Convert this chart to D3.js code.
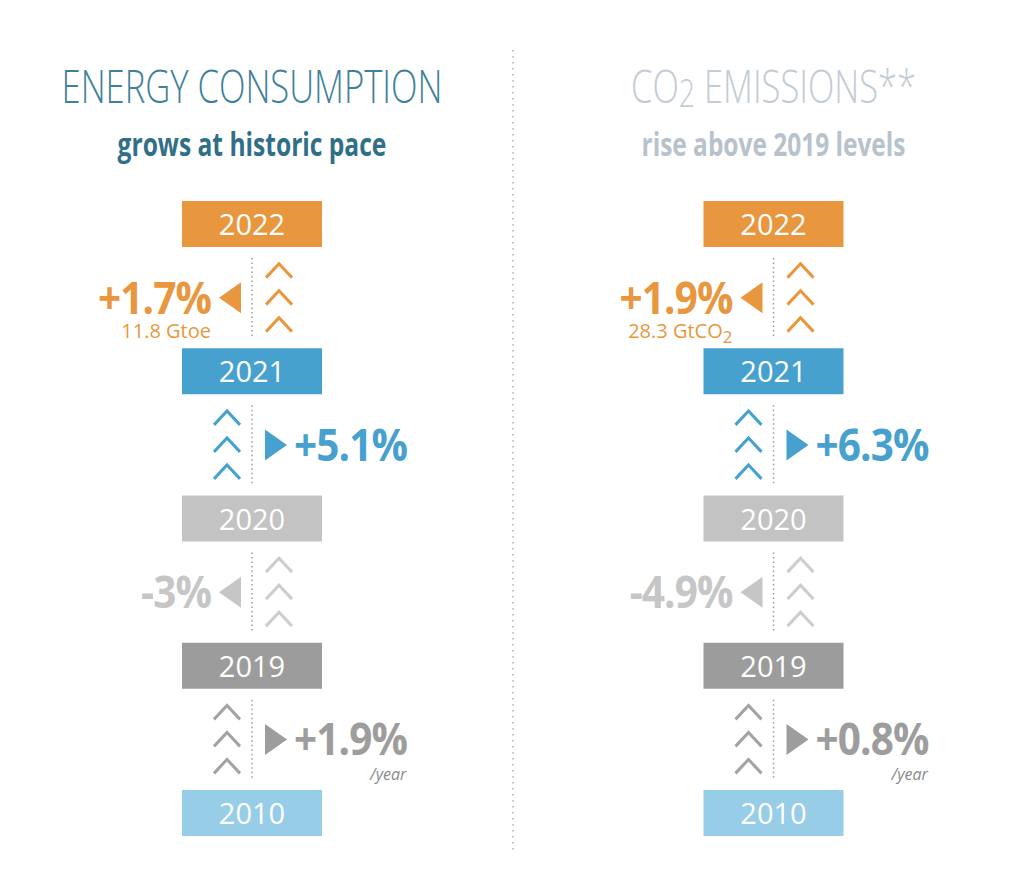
<!DOCTYPE html>
<html>
<head>
<meta charset="utf-8">
<script src="https://cdn.jsdelivr.net/npm/d3@7"></script>
<style>
  body { margin: 0; background: #fff; }
  svg { display: block; font-family: "Open Sans", sans-serif; }
</style>
</head>
<body>
<div id="chart"></div>
<script>
var years = ["2022", "2021", "2020", "2019", "2010"];
var yearColors = ["#e8973f", "#47a1cf", "#c3c3c3", "#9c9c9c", "#98cde8"];
var panels = ["energy", "co2"];
var energyGrowth = [1.7, 5.1, -3, 1.9];
var co2Growth = [1.9, 6.3, -4.9, 0.8];
var energyTotal = [["11.8 Gtoe", false]];
var co2Total = [["28.3 GtCO", false], ["2", true]];
var growthColors = ["#e8973f", "#47a1cf", "#c6c6c6", "#9d9d9d"];
var chevronColors = ["#e8973f", "#47a1cf", "#cdcdcd", "#a3a3a3"];
var growthNotes = ["", "", "", "/year"];
var energyTitle = [["ENERGY CONSUMPTION", false]];
var co2Title = [["CO", false], ["2", true], [" EMISSIONS**", false]];
var energySubtitle = "grows at historic pace";
var co2Subtitle = "rise above 2019 levels";

var width = 1024,
  height = 872;

var svg = d3
  .select("#chart")
  .append("svg")
  .attr("width", width)
  .attr("height", height);

var x = d3.scalePoint().domain(panels).range([252, 773.5]);
var y = d3.scalePoint().domain(years).range([224, 813]);
var boxW = 140,
  boxH = 46;

var fmt = function (v) {
  return (v > 0 ? "+" : "-") + Math.abs(v) + "%";
};

// squeeze text horizontally around its anchor (no condensed font available)
function squeeze(sel, k, ax) {
  sel.attr("transform", "translate(" + ax + ",0) scale(" + k + ",1) translate(" + -ax + ",0)");
}
function fit(sel, ax, w) {
  var bw = sel.node().getBBox().width;
  squeeze(sel, w / bw, ax);
}
function addParts(sel, parts, subSize, subDy) {
  parts.forEach(function (p) {
    var t = sel.append("tspan").text(p[0]);
    if (p[1]) {
      t.style("font-size", subSize + "px").attr("dy", subDy);
    } else if (sel.selectAll("tspan").size() > 1) {
      t.attr("dy", -subDy);
    }
  });
}

// centre divider
svg
  .append("line")
  .attr("x1", 513)
  .attr("x2", 513)
  .attr("y1", 50)
  .attr("y2", 850)
  .attr("stroke", "#b0b0b0")
  .attr("stroke-width", 1.5)
  .attr("stroke-dasharray", "1.5,4.5");

var panelInfo = {
  energy: {
    growth: energyGrowth,
    total: energyTotal,
    title: energyTitle,
    subtitle: energySubtitle,
    titleColor: "#3f8199",
    subColor: "#2f6f88",
    titleW: 381,
    subW: 269
  },
  co2: {
    growth: co2Growth,
    total: co2Total,
    title: co2Title,
    subtitle: co2Subtitle,
    titleColor: "#c3cbd4",
    subColor: "#b8c2cc",
    titleW: 285,
    subW: 264
  }
};

panels.forEach(function (p) {
  var info = panelInfo[p];
  var cx = x(p);
  var g = svg.append("g").attr("class", "panel-" + p);

  // titles
  var title = g
    .append("text")
    .attr("x", cx)
    .attr("y", 103)
    .attr("text-anchor", "middle")
    .style("font-size", "46px")
    .style("font-weight", 300)
    .attr("fill", info.titleColor);
  addParts(title, info.title, 38, 4);
  fit(title, cx, info.titleW);

  var sub = g
    .append("text")
    .attr("x", cx)
    .attr("y", 156)
    .attr("text-anchor", "middle")
    .style("font-size", "32px")
    .style("font-weight", 700)
    .attr("fill", info.subColor)
    .text(info.subtitle);
  fit(sub, cx, info.subW);

  // year boxes
  var boxes = g
    .selectAll(".year")
    .data(years)
    .enter()
    .append("g")
    .attr("class", "year");
  boxes
    .append("rect")
    .attr("x", cx - boxW / 2)
    .attr("y", function (d) {
      return y(d) - boxH / 2;
    })
    .attr("width", boxW)
    .attr("height", boxH)
    .attr("fill", function (d, i) {
      return yearColors[i];
    });
  boxes
    .append("text")
    .attr("x", cx)
    .attr("y", function (d) {
      return y(d) + 11;
    })
    .attr("text-anchor", "middle")
    .style("font-size", "29px")
    .attr("fill", "#fff")
    .text(function (d) {
      return d;
    });

  // segments between consecutive years
  d3.pairs(years).forEach(function (pair, i) {
    var top = y(pair[0]),
      bot = y(pair[1]);
    var mid = (top + bot) / 2;
    var labelLeft = i % 2 === 0;
    var col = growthColors[i];
    var seg = g.append("g").attr("class", "segment");

    seg
      .append("line")
      .attr("x1", cx)
      .attr("x2", cx)
      .attr("y1", top + boxH / 2 + 11)
      .attr("y2", bot - boxH / 2 - 11)
      .attr("stroke", "#9a9a9a")
      .attr("stroke-width", 1.5)
      .attr("stroke-dasharray", "1.5,3");

    var chevX = labelLeft ? cx + 27 : cx - 25;
    seg
      .selectAll(".chev")
      .data([-27, 0, 27])
      .enter()
      .append("path")
      .attr("class", "chev")
      .attr("d", function (dy) {
        var cy = mid + dy;
        return "M" + (chevX - 13) + "," + (cy + 7) + "L" + chevX + "," + (cy - 7) + "L" + (chevX + 13) + "," + (cy + 7);
      })
      .attr("fill", "none")
      .attr("stroke", chevronColors[i])
      .attr("stroke-width", 3);

    var tri = labelLeft
      ? [[cx - 33, mid], [cx - 11, mid - 15.5], [cx - 11, mid + 15.5]]
      : [[cx + 13, mid - 15.5], [cx + 13, mid + 15.5], [cx + 35, mid]];
    seg
      .append("path")
      .attr("d", d3.line()(tri) + "Z")
      .attr("fill", col);

    var lx = labelLeft ? cx - 41 : cx + 42;
    var label = seg
      .append("text")
      .attr("x", lx)
      .attr("y", mid + 16)
      .attr("text-anchor", labelLeft ? "end" : "start")
      .style("font-size", "45px")
      .style("font-weight", 700)
      .style("letter-spacing", "-1px")
      .attr("fill", col)
      .text(fmt(info.growth[i]));
    squeeze(label, 0.9, lx);

    if (i === 0) {
      var tot = seg
        .append("text")
        .attr("x", cx - 41)
        .attr("y", mid + 40)
        .attr("text-anchor", "end")
        .style("font-size", "20px")
        .attr("fill", col);
      addParts(tot, info.total, 17, 5);
    }

    if (growthNotes[i]) {
      var lw = label.node().getBBox().width * 0.9;
      seg
        .append("text")
        .attr("x", lx + lw - 1)
        .attr("y", mid + 41)
        .attr("text-anchor", "end")
        .style("font-size", "16px")
        .style("font-style", "italic")
        .attr("fill", "#8a8a8a")
        .text(growthNotes[i]);
    }
  });
});
</script>
</body>
</html>
